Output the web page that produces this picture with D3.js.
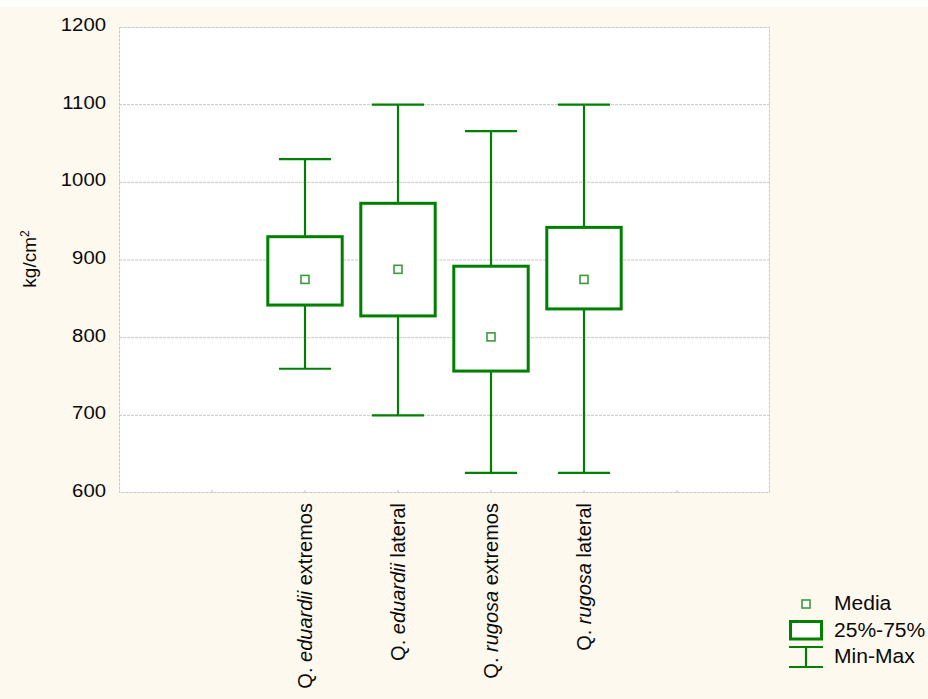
<!DOCTYPE html>
<html>
<head>
<meta charset="utf-8">
<script src="https://cdn.jsdelivr.net/npm/d3@7"></script>
<style>
  html, body { margin: 0; padding: 0; background: #ffffff; }
  svg { display: block; font-family: "Liberation Sans", Arial, sans-serif; }
</style>
</head>
<body>
<svg id="chart" width="928" height="699"></svg>
<script>
// Compressive strength by species and sampling position
const genus = ["Q.", "Q.", "Q.", "Q."];
const species = ["eduardii", "eduardii", "rugosa", "rugosa"];
const positions = ["extremos", "lateral", "extremos", "lateral"];
const categories = ["Q. eduardii extremos", "Q. eduardii lateral", "Q. rugosa extremos", "Q. rugosa lateral"];
const minValues = [760, 700, 626, 626];
const q1Values = [842, 828, 757, 837];
const meanValues = [875, 888, 801, 875];
const q3Values = [930, 973, 892, 942];
const maxValues = [1030, 1100, 1066, 1100];
const yTicks = [600, 700, 800, 900, 1000, 1100, 1200];
const legendLabels = ["Media", "25%-75%", "Min-Max"];

const green = "#008000";
const markGreen = "#3c9a3c";
const gridColor = "#c8c8c8";
const ink = "#0a0a0a";

const W = 928, H = 699;
const plot = { left: 119, right: 770, top: 27, bottom: 493 };

const svg = d3.select("#chart");

// page background
svg.append("rect").attr("x", 0).attr("y", 0).attr("width", W).attr("height", H).attr("fill", "#ffffff");
svg.append("rect").attr("x", 0).attr("y", 7).attr("width", W).attr("height", H - 7).attr("fill", "#fdf9ef");

const y = d3.scaleLinear().domain([600, 1200]).range([plot.bottom, plot.top]);
const x = d3.scalePoint().domain(categories).range([plot.left, plot.right]).padding(2);
const step = x.step();

// plot area
svg.append("rect")
  .attr("x", plot.left).attr("y", plot.top)
  .attr("width", plot.right - plot.left).attr("height", plot.bottom - plot.top)
  .attr("fill", "#ffffff");

// horizontal grid
svg.append("g").selectAll("line")
  .data(yTicks.filter(d => d > 600 && d < 1200))
  .join("line")
  .attr("x1", plot.left).attr("x2", plot.right)
  .attr("y1", d => y(d)).attr("y2", d => y(d))
  .attr("stroke", gridColor).attr("stroke-width", 1)
  .attr("stroke-dasharray", "3,1");

// frame
svg.append("rect")
  .attr("x", plot.left + 0.5).attr("y", plot.top + 0.5)
  .attr("width", plot.right - plot.left - 1).attr("height", plot.bottom - plot.top - 1)
  .attr("fill", "none").attr("stroke", gridColor).attr("stroke-width", 1)
  .attr("stroke-dasharray", "3,1");

// small ticks along the bottom edge, one per slot
const slotIdx = d3.range(-1, categories.length + 1);
svg.append("g").selectAll("line")
  .data(slotIdx)
  .join("line")
  .attr("x1", i => x(categories[0]) + i * step).attr("x2", i => x(categories[0]) + i * step)
  .attr("y1", plot.bottom - 3).attr("y2", plot.bottom)
  .attr("stroke", "#c0c0c0").attr("stroke-width", 1);

// y axis labels (slightly widened glyphs)
const yAxis = d3.axisLeft(y).tickValues(yTicks).tickFormat(d3.format("d")).tickSize(0);
const yg = svg.append("g").attr("transform", `translate(${plot.left},0)`).call(yAxis);
yg.select(".domain").remove();
yg.selectAll("text")
  .attr("x", 0)
  .attr("transform", "translate(-13,0) scale(1.13,1)")
  .attr("font-size", 18).attr("fill", ink).attr("dy", "0.2em")
  .attr("font-family", "'Liberation Sans', Arial, sans-serif");

// y axis title
const yt = svg.append("text")
  .attr("transform", `translate(36,259) rotate(-90)`)
  .attr("text-anchor", "middle")
  .attr("font-size", 19).attr("fill", ink);
yt.append("tspan").text("kg/cm");
yt.append("tspan").attr("font-size", 12).attr("dy", "-0.6em").text("2");

// boxes
const idx = d3.range(categories.length);
const boxW = step * 0.8;
const capW = step * 0.56;
const g = svg.append("g");

// whiskers
g.selectAll("line.wlow").data(idx).join("line").attr("class", "wlow")
  .attr("x1", i => x(categories[i])).attr("x2", i => x(categories[i]))
  .attr("y1", i => y(q1Values[i])).attr("y2", i => y(minValues[i]))
  .attr("stroke", green).attr("stroke-width", 2.2);
g.selectAll("line.whigh").data(idx).join("line").attr("class", "whigh")
  .attr("x1", i => x(categories[i])).attr("x2", i => x(categories[i]))
  .attr("y1", i => y(q3Values[i])).attr("y2", i => y(maxValues[i]))
  .attr("stroke", green).attr("stroke-width", 2.2);
g.selectAll("line.capmin").data(idx).join("line").attr("class", "capmin")
  .attr("x1", i => x(categories[i]) - capW / 2).attr("x2", i => x(categories[i]) + capW / 2)
  .attr("y1", i => y(minValues[i])).attr("y2", i => y(minValues[i]))
  .attr("stroke", green).attr("stroke-width", 2.2);
g.selectAll("line.capmax").data(idx).join("line").attr("class", "capmax")
  .attr("x1", i => x(categories[i]) - capW / 2).attr("x2", i => x(categories[i]) + capW / 2)
  .attr("y1", i => y(maxValues[i])).attr("y2", i => y(maxValues[i]))
  .attr("stroke", green).attr("stroke-width", 2.2);

// interquartile boxes
g.selectAll("rect.box").data(idx).join("rect").attr("class", "box")
  .attr("x", i => x(categories[i]) - boxW / 2)
  .attr("y", i => y(q3Values[i]))
  .attr("width", boxW)
  .attr("height", i => y(q1Values[i]) - y(q3Values[i]))
  .attr("fill", "#ffffff").attr("stroke", green).attr("stroke-width", 3);

// mean markers
const ms = 8;
g.selectAll("rect.mean").data(idx).join("rect").attr("class", "mean")
  .attr("x", i => x(categories[i]) - ms / 2)
  .attr("y", i => y(meanValues[i]) - ms / 2)
  .attr("width", ms).attr("height", ms)
  .attr("fill", "#ffffff").attr("stroke", markGreen).attr("stroke-width", 1.6);

// category labels, rotated, with italic species names
const xl = svg.append("g").selectAll("text").data(idx).join("text")
  .attr("transform", i => `translate(${x(categories[i])},503) rotate(-90)`)
  .attr("text-anchor", "end")
  .attr("dy", "0.35em")
  .attr("font-size", 20).attr("fill", ink);
xl.append("tspan").text(i => genus[i] + " ");
xl.append("tspan").attr("font-style", "italic").text(i => species[i]);
xl.append("tspan").text(i => " " + positions[i]);

// legend
const lg = svg.append("g");
const lx = 806;
lg.append("rect").attr("x", lx - 4).attr("y", 600).attr("width", 8).attr("height", 8)
  .attr("fill", "#ffffff").attr("stroke", markGreen).attr("stroke-width", 1.6);
lg.append("rect").attr("x", lx - 15.5).attr("y", 621.5).attr("width", 31).attr("height", 17.5)
  .attr("fill", "#ffffff").attr("stroke", green).attr("stroke-width", 3);
lg.append("line").attr("x1", lx - 17).attr("x2", lx + 17).attr("y1", 647).attr("y2", 647)
  .attr("stroke", green).attr("stroke-width", 2.2);
lg.append("line").attr("x1", lx - 17).attr("x2", lx + 17).attr("y1", 667).attr("y2", 667)
  .attr("stroke", green).attr("stroke-width", 2.2);
lg.append("line").attr("x1", lx).attr("x2", lx).attr("y1", 647).attr("y2", 667)
  .attr("stroke", green).attr("stroke-width", 2.2);
lg.selectAll("text").data(legendLabels).join("text")
  .attr("x", 0)
  .attr("transform", (d, i) => `translate(834,${610 + i * 26.5}) scale(1.08,1)`)
  .attr("font-size", 19.5).attr("fill", ink)
  .text(d => d);
</script>
</body>
</html>
